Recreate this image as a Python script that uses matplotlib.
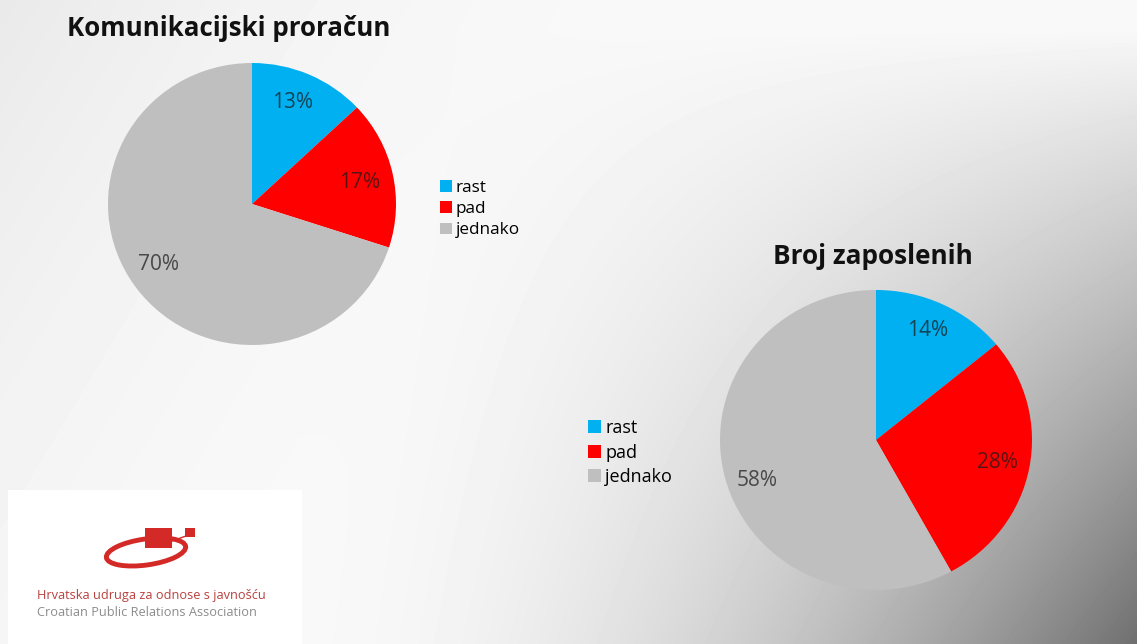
import numpy as np
import matplotlib.pyplot as plt
from matplotlib.patches import Rectangle, Ellipse

plt.rcParams['font.family'] = ['Open Sans', 'DejaVu Sans']

labels = ['rast', 'pad', 'jednako']
budget = [13, 17, 70]
staff = [14, 28, 58]
colors = ['#00b0f0', '#ff0000', '#bfbfbf']

W, H = 1137, 644
fig = plt.figure(figsize=(W / 100, H / 100), dpi=100)

# background gradient (light top-left, dark bottom-right)
bg = fig.add_axes([0, 0, 1, 1])
xx, yy = np.meshgrid(np.arange(W), np.arange(H))
u = np.clip((xx - 350) / 787, 0, 1)
w = np.clip((yy - 30) / 614, 0, 1)
v = (0.975 - 0.48 * u ** 1.8 * w ** 0.9
     - 0.06 * w ** 2 * np.clip((xx - 300) / 837, 0, 1)
     - 0.06 * np.clip(1 - (xx + 0.6 * yy) / 700, 0, 1) ** 2)
bg.imshow(v, cmap='gray', vmin=0, vmax=1, extent=[0, W, H, 0], aspect='auto')
bg.set_xlim(0, W)
bg.set_ylim(H, 0)
bg.axis('off')


def px_axes(cx, cy, rx, ry):
    return fig.add_axes([(cx - rx) / W, 1 - (cy + ry) / H, 2 * rx / W, 2 * ry / H])


def draw_pie(ax, vals, pct_pos):
    wedges, _ = ax.pie(vals, colors=colors, startangle=90, counterclock=False, radius=1)
    ax.set_xlim(-1, 1)
    ax.set_ylim(-1, 1)
    ax.set_aspect('auto')
    for val, (x, y) in zip(vals, pct_pos):
        ax.text(x, y, f'{val}%', ha='center', va='center', fontsize=15, color='#1a1a1a', alpha=0.72)
    return wedges


ax1 = px_axes(252, 204, 144, 141)
w1 = draw_pie(ax1, budget, [(0.285, 0.72), (0.75, 0.15), (-0.65, -0.43)])
ax2 = px_axes(876, 440, 156, 150)
w2 = draw_pie(ax2, staff, [(0.33, 0.73), (0.78, -0.15), (-0.76, -0.27)])

fig.text(67 / W, 1 - 28 / H, 'Komunikacijski proračun', fontsize=18.6, fontweight='bold',
         ha='left', va='center', color='#111111')
fig.text(773 / W, 1 - 256 / H, 'Broj zaposlenih', fontsize=18.8, fontweight='bold',
         ha='left', va='center', color='#111111')

leg_kw = dict(frameon=False, handlelength=0.7, handleheight=0.7,
              handletextpad=0.25, borderpad=0, loc='upper left')
fig.legend(w1, labels, bbox_to_anchor=(431 / W, 1 - 171 / H), fontsize=12.3,
           labelspacing=0.32, **leg_kw)
fig.legend(w2, labels, bbox_to_anchor=(579 / W, 1 - 410 / H), fontsize=13,
           labelspacing=0.36, **leg_kw)

# logo box
bg.add_patch(Rectangle((8, 490), 294, 160, facecolor='white', edgecolor='none'))
bg.add_patch(Ellipse((146, 552), 80, 26, angle=-8, facecolor='none', edgecolor='#d42a27', lw=3.5))
bg.add_patch(Rectangle((145, 528), 27, 20, facecolor='#d42a27', edgecolor='none'))
bg.add_patch(Rectangle((185, 528), 10, 9, facecolor='#d42a27', edgecolor='none'))
bg.plot([172, 186], [541, 536], color='#d42a27', lw=1)
bg.text(37, 596, 'Hrvatska udruga za odnose s javnošću', fontsize=9.2, color='#b8423e',
        ha='left', va='center')
bg.text(37, 613, 'Croatian Public Relations Association', fontsize=9.2, color='#8c8c8c',
        ha='left', va='center')

fig.savefig('out.png', dpi=100)
